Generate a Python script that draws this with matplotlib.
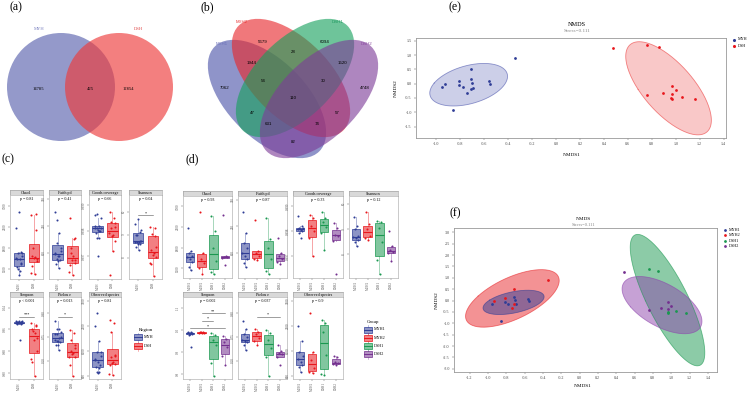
import numpy as np
import matplotlib
matplotlib.use("Agg")
import matplotlib.pyplot as plt
from matplotlib.patches import Circle, Ellipse, Rectangle
from matplotlib.colors import to_rgba
from matplotlib.ticker import MultipleLocator, MaxNLocator, FormatStrFormatter

# ---------------- data ----------------
venn2_names = ["MYH", "DSH"]
venn2_counts = [14785, 425, 12854]  # MYH only, shared, DSH only

venn4_names = ["MYH1", "MYH2", "DSH1", "DSH2"]
# membership flags in order MYH1, MYH2, DSH1, DSH2
venn4_regions = ["1000", "0100", "0010", "0001", "1100", "0110", "0011",
                 "1110", "0111", "1111", "1010", "0101", "1011", "1101", "1001"]
venn4_counts = [7062, 5679, 6094, 4748, 1944, 28, 1520, 54, 30, 110, 47, 57, 631, 74, 82]

metrics = ["Chao1", "Faith pd", "Goods coverage", "Shannon",
           "Simpson", "Pielou e", "Observed species"]

myh1_alpha = [
    [2360, 1700, 1650, 1560, 1530, 1480, 1380, 1250, 1140],
    [282, 218, 190, 175, 158, 150, 140, 128, 116],
    [0.9986, 0.9982, 0.99812, 0.9981, 0.99809, 0.99805, 0.998, 0.9979, 0.99773],
    [9.48, 9.11, 9.0, 8.74, 8.70, 8.67, 8.59, 8.48, 8.33],
    [0.99, 0.988, 0.986, 0.984, 0.983, 0.982, 0.98, 0.978, 0.92],
    [0.85, 0.80, 0.765, 0.75, 0.73, 0.725, 0.715, 0.70, 0.665],
    [2380, 1900, 1570, 1450, 1330, 1240, 1150, 1090, 940],
]
myh2_alpha = [
    [2833, 1650, 1480, 1350, 1200, 1030],
    [258, 165, 160, 150, 142, 138],
    [0.99865, 0.9985, 0.9982, 0.998, 0.9977, 0.997],
    [9.67, 9.19, 9.0, 8.74, 8.67, 8.59],
    [0.992, 0.99, 0.988, 0.987, 0.985, 0.983],
    [0.80, 0.78, 0.765, 0.74, 0.72, 0.70],
    [2800, 1570, 1300, 1060, 940, 880],
]
dsh1_alpha = [
    [2722, 2300, 1800, 1420, 1100, 1050],
    [263, 200, 175, 140, 105, 95],
    [0.99875, 0.9985, 0.99835, 0.99815, 0.9979, 0.99722],
    [9.33, 9.30, 9.04, 8.48, 7.78, 7.22],
    [0.985, 0.975, 0.955, 0.93, 0.85, 0.79],
    [0.79, 0.77, 0.73, 0.68, 0.62, 0.505],
    [2590, 2500, 2200, 1480, 850, 820],
]
dsh2_alpha = [
    [2750, 1560, 1540, 1520, 1500, 1300],
    [205, 160, 150, 140, 132, 125],
    [0.9983, 0.9981, 0.99785, 0.9978, 0.9976, 0.99627],
    [8.93, 8.33, 8.19, 8.11, 8.04, 7.74],
    [0.972, 0.96, 0.945, 0.92, 0.88, 0.84],
    [0.70, 0.66, 0.645, 0.64, 0.62, 0.57],
    [1450, 1390, 1240, 1210, 1180, 1150],
]

pvals_region = ["p = 0.81", "p = 0.41", "p = 0.66", "p = 0.04",
                "p < 0.001", "p = 0.013", "p = 0.81"]
sig_region = ["", "", "", "*", "***", "*", ""]
pvals_group = ["p = 0.93", "p = 0.87", "p = 0.33", "p = 0.12",
               "p = 0.002", "p = 0.037", "p = 0.9"]
# (from, to, label), listed bottom to top
sig_group = [[], [], [], [], [(1, 4, "*"), (2, 3, "*"), (2, 4, "**")],
             [(2, 4, "*")], []]

# NMDS scores
myh1_x = [-0.95, -0.86, -0.81, -0.78, -0.71, -0.70, -0.69, -0.56, -0.55]
myh1_y = [-0.13, -0.92, -0.06, -0.13, 0.17, 0.02, -0.15, 0.09, -0.02]
myh2_x = [-0.93, -0.81, -0.71, -0.74, -0.71, -0.34]
myh2_y = [-0.01, 0.10, 0.51, -0.31, -0.17, 0.91]
dsh1_x = [0.76, 0.86, 0.96, 0.97, 1.05, 1.16]
dsh1_y = [1.37, 1.30, -0.49, -0.55, -0.45, -0.55]
dsh2_x = [0.48, 0.76, 0.89, 0.97, 0.97, 1.00]
dsh2_y = [1.26, -0.41, -0.34, -0.07, -0.35, -0.22]
stress = 0.111

# confidence ellipses: centre and spread (xx, xy, yy)
ell_region_c = [(-0.73, -0.035), (0.94, -0.16)]
ell_region_s = [(0.1056, 0.095, 0.555), (0.128, -0.40, 2.657)]
ell_group_c = [(-0.72, -0.08), (-0.733, 0.095), (0.96, 0.02), (0.90, -0.20)]
ell_group_s = [(0.111, 0.082, 0.285), (0.261, 0.40, 1.60),
               (0.1656, -0.94, 8.35), (0.19, -0.31, 1.583)]

# ---------------- style ----------------
W, H = 754, 393
plt.rcParams['font.family'] = ['Liberation Serif', 'DejaVu Serif']
BLUE, RED, GREEN, PURPLE = '#2f3d96', '#e8161c', '#1a9850', '#74308f'

fig = plt.figure(figsize=(W / 100, H / 100), dpi=100)

# overlay in pixel coordinates for venns, labels and legends
ov = fig.add_axes([0, 0, 1, 1])
ov.set_xlim(0, W)
ov.set_ylim(H, 0)
ov.axis('off')
ov.patch.set_alpha(0)


def px_axes(x0, y0, x1, y1):
    return fig.add_axes([x0 / W, 1 - y1 / H, (x1 - x0) / W, (y1 - y0) / H])


# panel letters
for lab, (x, y) in zip(["(a)", "(b)", "(c)", "(d)", "(e)", "(f)"],
                       [(16, 7), (207, 7), (8, 159), (192, 159), (455, 7), (455, 213)]):
    ov.text(x, y, lab, fontsize=8.5, ha='center', va='center')

# ---------------- (a) two-set venn ----------------
ov.add_patch(Circle((61, 87), 54, fc='#7980bd', alpha=0.8, lw=0))
ov.add_patch(Circle((119, 87), 54, fc='#ee3a3a', alpha=0.65, lw=0))
for x, n in zip([38, 90, 128], venn2_counts):
    ov.text(x, 89, str(n), fontsize=3.3, ha='center', va='center')
ov.text(39, 29, venn2_names[0], fontsize=3.3, ha='center', va='center', color='#7a80c0')
ov.text(138, 29, venn2_names[1], fontsize=3.3, ha='center', va='center', color='#e04848')

# ---------------- (b) four-set venn ----------------
v4_cols = ['#4b53a8', '#e8262a', '#16a05c', '#7d3c98']
v4_centres = [(267, 99), (291, 78), (295, 78), (319, 99)]
v4_angles = [45, 45, -45, -45]
for (cx, cy), ang, c in zip(v4_centres, v4_angles, v4_cols):
    ov.add_patch(Ellipse((cx, cy), 148, 78, angle=ang, fc=c, alpha=0.62, lw=0))
v4_pos = {"1000": (225, 88), "0100": (263, 42), "0010": (325, 42), "0001": (365, 88),
          "1100": (252, 63), "0110": (293, 52), "0011": (342, 63), "1110": (263, 81),
          "0111": (323, 81), "1111": (293, 98), "1010": (252, 113), "0101": (337, 113),
          "1011": (268, 124), "1101": (317, 124), "1001": (293, 142)}
for reg, n in zip(venn4_regions, venn4_counts):
    x, y = v4_pos[reg]
    ov.text(x, y, str(n), fontsize=3.2, ha='center', va='center', family='Liberation Sans')
for name, (x, y), c in zip(venn4_names, [(222, 44), (242, 22), (337, 22), (366, 44)],
                           ['#6a70b8', '#e83030', '#1f9a60', '#8a4aa0']):
    ov.text(x, y, name, fontsize=3.2, ha='center', va='center', color=c,
            family='Liberation Sans')


# ---------------- (c) / (d) boxplot facets ----------------
jitter = np.array([-0.18, 0.12, -0.06, 0.2, -0.22, 0.04, 0.16, -0.12, 0.08,
                   -0.02, 0.22, -0.16, 0.1, -0.08, 0.0])


def draw_facet(body, name, vals, colors, ticklabels, ptxt, bars):
    x0, y0, x1, y1 = body
    sax = px_axes(x0, y0 - 5, x1, y0)
    sax.set_xticks([])
    sax.set_yticks([])
    sax.set_facecolor('#d9d9d9')
    for sp in sax.spines.values():
        sp.set_color('#9a9a9a')
        sp.set_linewidth(0.4)
    sax.text(0.5, 0.45, name, ha='center', va='center', fontsize=3,
             transform=sax.transAxes)

    ax = px_axes(x0, y0, x1, y1)
    pos = np.arange(1, len(vals) + 1)
    bp = ax.boxplot(vals, positions=pos, widths=0.72, patch_artist=True,
                    showfliers=False, whis=1.5)
    for i, c in enumerate(colors):
        bp['boxes'][i].set(facecolor=to_rgba(c, 0.55), edgecolor=c, linewidth=0.5)
        bp['medians'][i].set(color=c, linewidth=0.8)
        for w in bp['whiskers'][2 * i:2 * i + 2]:
            w.set(color=c, alpha=0.45, linewidth=0.6)
        for cap in bp['caps'][2 * i:2 * i + 2]:
            cap.set_visible(False)
        v = vals[i]
        ax.scatter(pos[i] + jitter[:len(v)], v, s=2.2, color=c, zorder=4, linewidths=0)

    allv = np.concatenate([np.asarray(v, float) for v in vals])
    lo, hi = allv.min(), allv.max()
    r = hi - lo
    ax.set_ylim(lo - 0.06 * r, hi + (0.26 + 0.17 * len(bars)) * r)
    ax.set_xlim(0.4, len(vals) + 0.6)
    for k, (a, b, s) in enumerate(bars):
        yb = hi + (0.07 + 0.17 * k) * r
        ax.plot([a, b], [yb, yb], color='#555555', lw=0.4)
        ax.text((a + b) / 2, yb, s, ha='center', va='bottom', fontsize=3)
    ax.text(0.5, 0.95, ptxt, transform=ax.transAxes, ha='center', va='center', fontsize=3)

    ax.set_xticks(pos)
    ax.set_xticklabels(ticklabels, rotation=90, fontsize=2.3)
    ax.yaxis.set_major_locator(MaxNLocator(4))
    ax.ticklabel_format(axis='y', useOffset=False, style='plain')
    ax.tick_params(axis='y', labelsize=2.3, labelrotation=90, length=1.2, width=0.3,
                   colors='#555555', pad=1)
    ax.tick_params(axis='x', length=1.2, width=0.3, colors='#555555', pad=1)
    for lbl in ax.get_yticklabels():
        lbl.set_va('center')
    for sp in ax.spines.values():
        sp.set_color('#b5b5b5')
        sp.set_linewidth(0.5)


c_cols = [(10, 43), (49, 81), (89, 121), (129, 162)]
d_cols = [(183, 232), (238, 287), (293, 343), (349, 398)]
c_rows = [(195, 279), (297, 379)]
d_rows = [(196, 278), (297, 379)]

for m, name in enumerate(metrics):
    row, col = divmod(m, 4)
    myh = myh1_alpha[m] + myh2_alpha[m]
    dsh = dsh1_alpha[m] + dsh2_alpha[m]
    bars = [(1, 2, sig_region[m])] if sig_region[m] else []
    draw_facet((c_cols[col][0], c_rows[row][0], c_cols[col][1], c_rows[row][1]),
               name, [myh, dsh], [BLUE, RED], ["MYH", "DSH"], pvals_region[m], bars)
    draw_facet((d_cols[col][0], d_rows[row][0], d_cols[col][1], d_rows[row][1]),
               name, [myh1_alpha[m], myh2_alpha[m], dsh1_alpha[m], dsh2_alpha[m]],
               [BLUE, RED, GREEN, PURPLE], venn4_names, pvals_group[m], sig_group[m])


def legend_key(x, y, c, label):
    ov.add_patch(Rectangle((x, y - 3), 8, 6, fc=to_rgba(c, 0.55), ec=c, lw=0.5))
    ov.plot([x, x + 8], [y, y], color=c, lw=0.7)
    ov.plot([x + 4, x + 4], [y - 4.5, y - 3], color=c, lw=0.4, alpha=0.6)
    ov.plot([x + 4, x + 4], [y + 3, y + 4.5], color=c, lw=0.4, alpha=0.6)
    ov.text(x + 10, y, label, fontsize=3, va='center', ha='left')


ov.text(146, 330, "Region", fontsize=3.5, ha='center', va='center')
legend_key(134, 337, BLUE, "MYH")
legend_key(134, 346, RED, "DSH")
ov.text(373, 322, "Group", fontsize=3.5, ha='center', va='center')
for k, (name, c) in enumerate(zip(venn4_names, [BLUE, RED, GREEN, PURPLE])):
    legend_key(364, 329.5 + 8.3 * k, c, name)


# ---------------- (e) / (f) NMDS ----------------
def ellipse(ax, centre, spread, c, alpha):
    sxx, sxy, syy = spread
    vals, vecs = np.linalg.eigh(np.array([[sxx, sxy], [sxy, syy]]))
    t = np.linspace(0, 2 * np.pi, 200)
    pts = np.array(centre)[:, None] + vecs @ np.diag(np.sqrt(vals)) @ np.vstack([np.cos(t), np.sin(t)])
    ax.fill(pts[0], pts[1], color=c, alpha=alpha, lw=0, zorder=1)
    ax.plot(pts[0], pts[1], color=c, alpha=0.6, lw=0.6, zorder=2)


def nmds_axes(box, xlim, ylim):
    ax = px_axes(*box)
    ax.set_xlim(*xlim)
    ax.set_ylim(*ylim)
    ax.xaxis.set_major_locator(MultipleLocator(0.2))
    ax.yaxis.set_major_locator(MultipleLocator(0.5))
    ax.xaxis.set_major_formatter(FormatStrFormatter('%.1f'))
    ax.yaxis.set_major_formatter(FormatStrFormatter('%.1f'))
    ax.tick_params(labelsize=3, length=1.5, width=0.3, colors='#444444', pad=1.5)
    for sp in ax.spines.values():
        sp.set_color('#999999')
        sp.set_linewidth(0.6)
    return ax


# (e)
ax = nmds_axes((416, 38, 726, 138), (-1.17, 1.42), (-1.9, 1.6))
ellipse(ax, ell_region_c[0], ell_region_s[0], '#4a54ad', 0.28)
ellipse(ax, ell_region_c[1], ell_region_s[1], '#ec3a3a', 0.28)
ax.scatter(myh1_x + myh2_x, myh1_y + myh2_y, s=4, color=BLUE, zorder=3, linewidths=0)
ax.scatter(dsh1_x + dsh2_x, dsh1_y + dsh2_y, s=4, color=RED, zorder=3, linewidths=0)
ov.text(577, 24, "NMDS", fontsize=4.5, ha='center', va='center')
ov.text(577, 30.5, "Stress=%.3f" % stress, fontsize=3.8, ha='center', va='center', color='#888888')
ov.text(572, 155, "NMDS1", fontsize=3.8, ha='center', va='center')
ov.text(396, 88, "NMDS2", fontsize=3.8, ha='center', va='center', rotation=90)
for k, (name, c) in enumerate(zip(venn2_names, [BLUE, RED])):
    ov.scatter([734], [39.5 + 6.5 * k], s=5, color=c, linewidths=0)
    ov.text(738, 39.5 + 6.5 * k, name, fontsize=3, va='center')

# (f)
ax = nmds_axes((454, 228, 717, 372), (-1.37, 1.5), (-3.14, 3.19))
for cen, spr, c in zip([ell_group_c[1], ell_group_c[0], ell_group_c[2], ell_group_c[3]],
                       [ell_group_s[1], ell_group_s[0], ell_group_s[2], ell_group_s[3]],
                       ['#e8262a', '#2f3d96', '#1a9850', '#8e44ad']):
    ellipse(ax, cen, spr, c, 0.5)
for xs, ys, c in [(myh1_x, myh1_y, BLUE), (myh2_x, myh2_y, RED),
                  (dsh1_x, dsh1_y, GREEN), (dsh2_x, dsh2_y, PURPLE)]:
    ax.scatter(xs, ys, s=4, color=c, zorder=3, linewidths=0)
ov.text(583, 219, "NMDS", fontsize=3.8, ha='center', va='center')
ov.text(583, 224.5, "Stress=%.3f" % stress, fontsize=3.3, ha='center', va='center', color='#888888')
ov.text(583, 386, "NMDS1", fontsize=3.8, ha='center', va='center')
ov.text(437, 300, "NMDS2", fontsize=3.8, ha='center', va='center', rotation=90)
for k, (name, c) in enumerate(zip(venn4_names, [BLUE, RED, GREEN, PURPLE])):
    ov.scatter([725], [230 + 5.4 * k], s=4, color=c, linewidths=0)
    ov.text(729, 230 + 5.4 * k, name, fontsize=3, va='center')

fig.savefig("out.png", dpi=100)
